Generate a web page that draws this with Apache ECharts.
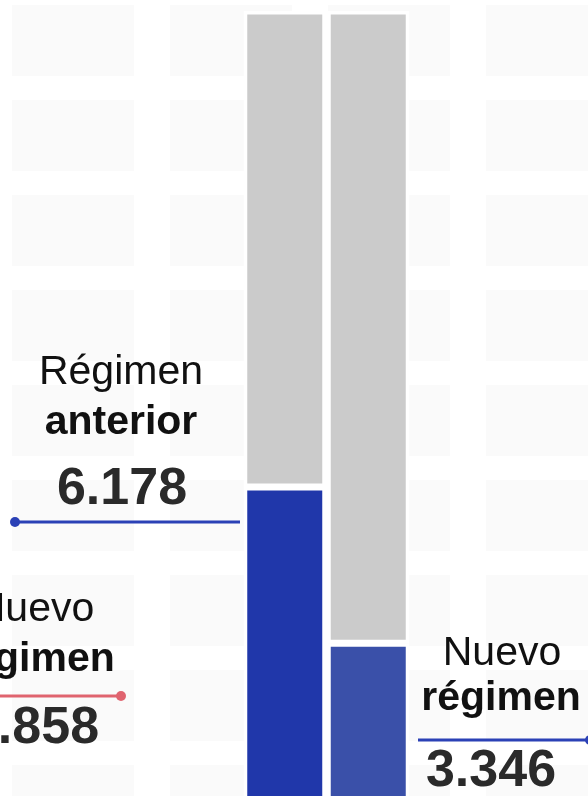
<!DOCTYPE html>
<html>
<head>
<meta charset="utf-8">
<script src="https://cdn.jsdelivr.net/npm/echarts@6/dist/echarts.min.js"></script>
<style>
  html, body { margin: 0; padding: 0; background: #fff; }
  #chart { width: 588px; height: 796px; }
</style>
</head>
<body>
<div id="chart"></div>
<script>
const categories = ['Régimen anterior', 'Nuevo régimen'];
const blueValues = [6.178, 3.346];
const totalValues = [14.8, 14.8];
const blueColors = ['#2037aa', '#3a50a9'];

// annotation texts: [normal line, bold line, number]
const leftLabel = ['Régimen', 'anterior', '6.178'];
const rightLabel = ['Nuevo', 'régimen', '3.346'];
const cutLabel = ['Nuevo', 'régimen', '2.858'];

const grayValues = totalValues.map((t, i) => +(t - blueValues[i]).toFixed(3));

// faint tiled background
const tile = document.createElement('canvas');
tile.width = 158;
tile.height = 95;
const tctx = tile.getContext('2d');
tctx.fillStyle = '#ffffff';
tctx.fillRect(0, 0, 158, 95);
tctx.fillStyle = '#fafafa';
tctx.fillRect(12, 5, 122, 71);

const chart = echarts.init(document.getElementById('chart'));

const FONT = "'Liberation Sans', Arial, Helvetica, sans-serif";
const txt = (s, x, y, size, weight, color) => ({
  type: 'text',
  z: 10,
  style: {
    text: s, x: x, y: y,
    font: `${weight} ${size}px ${FONT}`,
    fill: color,
    align: 'center',
    verticalAlign: 'middle'
  }
});
const leader = (x1, x2, y, color) => ({
  type: 'line', z: 10,
  shape: {x1: x1, y1: y, x2: x2, y2: y},
  style: {stroke: color, lineWidth: 3}
});
const dot = (x, y, color) => ({
  type: 'circle', z: 10,
  shape: {cx: x, cy: y, r: 5},
  style: {fill: color}
});

const option = {
  animation: false,
  backgroundColor: {image: tile, repeat: 'repeat'},
  grid: {left: 243, width: 167, top: 11, bottom: 0},
  xAxis: {
    type: 'category',
    data: categories,
    show: false
  },
  yAxis: {
    type: 'value',
    // bars start at 0, just below the visible area (picture is cropped)
    min: 0.58,
    max: 14.8,
    show: false,
    splitLine: {show: false}
  },
  series: [
    {
      type: 'bar',
      stack: 'total',
      barWidth: 82,
      clip: false,
      data: blueValues.map((v, i) => ({value: v, itemStyle: {color: blueColors[i]}})),
      itemStyle: {borderColor: '#fff', borderWidth: 3.5}
    },
    {
      type: 'bar',
      stack: 'total',
      barWidth: 82,
      clip: false,
      data: grayValues,
      itemStyle: {color: '#cbcbcb', borderColor: '#fff', borderWidth: 3.5}
    }
  ],
  graphic: [
    // left: previous regime
    txt(leftLabel[0], 121, 373, 41, 'normal', '#111'),
    txt(leftLabel[1], 121, 423, 41, 'bold', '#111'),
    txt(leftLabel[2], 122, 490, 52, 'bold', '#2a2a2a'),
    leader(15, 240, 522, '#2b41b6'),
    dot(15, 522, '#2b41b6'),
    // left (cut off): new regime
    txt(cutLabel[0], 35, 610, 41, 'normal', '#111'),
    txt(cutLabel[1], 35, 660, 41, 'bold', '#111'),
    leader(-10, 121, 696, '#e0646f'),
    dot(121, 696, '#e0646f'),
    txt(cutLabel[2], 34, 729, 52, 'bold', '#2a2a2a'),
    // right: new regime
    txt(rightLabel[0], 502, 654, 41, 'normal', '#111'),
    txt(rightLabel[1], 501, 699, 41, 'bold', '#111'),
    leader(418, 590, 740, '#2b41b6'),
    dot(590, 740, '#2b41b6'),
    txt(rightLabel[2], 491, 772, 52, 'bold', '#2a2a2a')
  ]
};

chart.setOption(option);
</script>
</body>
</html>
